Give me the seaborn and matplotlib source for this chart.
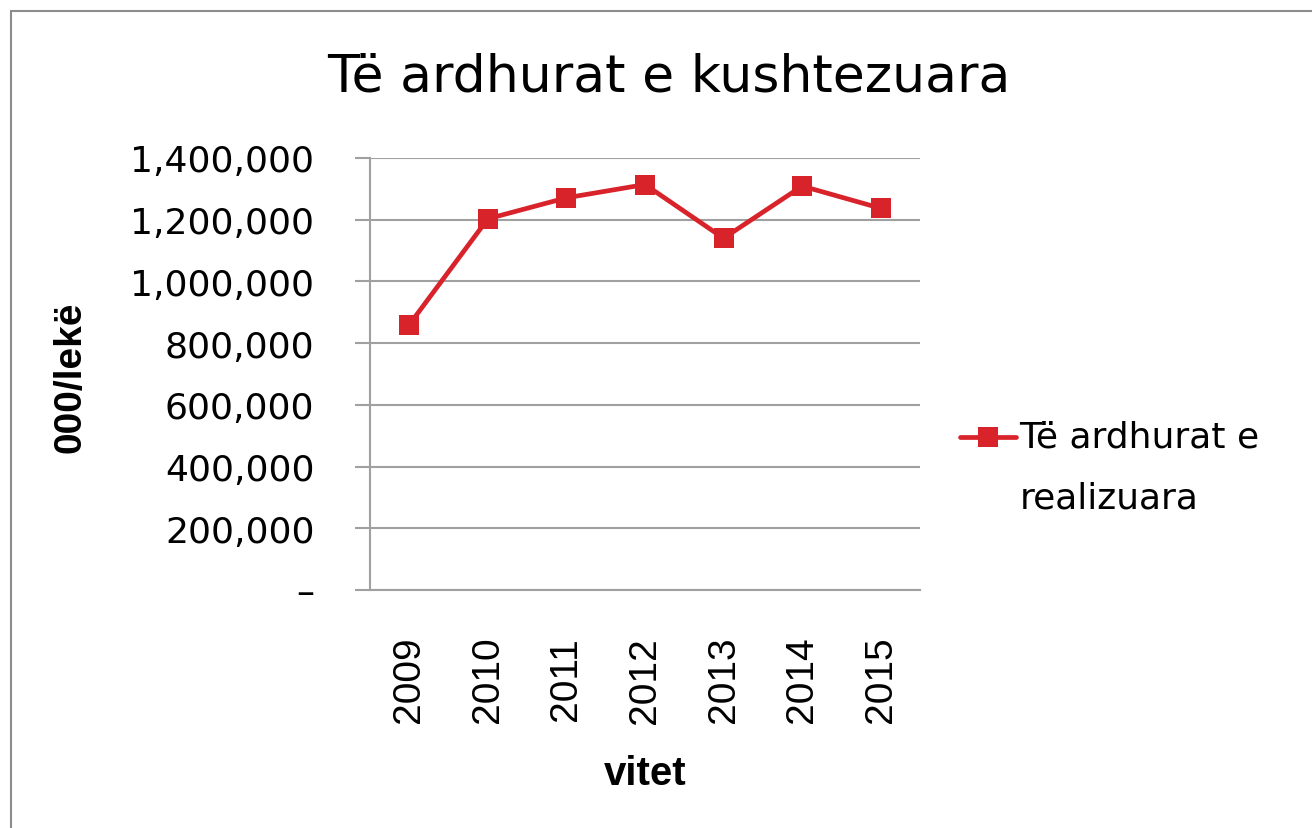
import matplotlib
matplotlib.use("Agg")
import matplotlib.pyplot as plt
import matplotlib.patches as mpatches
from matplotlib.legend_handler import HandlerLine2D
import seaborn as sns
import pandas as pd

# data
years = ["2009", "2010", "2011", "2012", "2013", "2014", "2015"]
revenue = [860000, 1203000, 1271000, 1314000, 1140000, 1309000, 1237000]
y_ticks = [0, 200000, 400000, 600000, 800000, 1000000, 1200000, 1400000]
y_tick_labels = ["–", "200,000", "400,000", "600,000", "800,000",
                 "1,000,000", "1,200,000", "1,400,000"]
series_label = "Të ardhurat e\nrealizuara"

df = pd.DataFrame({"vitet": years, "vlera": revenue})

sns.set_style("white")
plt.rcParams["font.family"] = ["DejaVu Sans"]
plt.rcParams["text.color"] = "black"
plt.rcParams["axes.labelcolor"] = "black"

red = "#D9232B"
grid_gray = "#A0A0A0"


class FirstLineHandler(HandlerLine2D):
    """Legend handle placed next to the first line of a two-line label."""

    def __init__(self, shift, **kw):
        super().__init__(**kw)
        self.shift = shift

    def create_artists(self, legend, orig_handle, xdescent, ydescent,
                       width, height, fontsize, trans):
        artists = super().create_artists(legend, orig_handle, xdescent, ydescent,
                                         width, height, fontsize, trans)
        for a in artists:
            a.set_ydata([y + self.shift for y in a.get_ydata()])
        return artists


fig = plt.figure(figsize=(13.12, 8.29), dpi=100)
ax = fig.add_axes([370 / 1312, 1 - 591 / 829, 550 / 1312, 432 / 829])

sns.lineplot(data=df, x="vitet", y="vlera", color=red, linewidth=3.4,
             marker="s", markersize=14.5, markeredgewidth=0,
             label=series_label, ax=ax, sort=False)

ax.set_xlim(-0.5, 6.5)
ax.set_ylim(0, 1400000)
ax.set_yticks(y_ticks)
ax.set_yticklabels(y_tick_labels)
ax.set_axisbelow(True)
ax.yaxis.grid(True, color=grid_gray, linewidth=1.5)
ax.xaxis.grid(False)

for side in ["top", "right"]:
    ax.spines[side].set_visible(False)
for side in ["left", "bottom"]:
    ax.spines[side].set_color(grid_gray)
    ax.spines[side].set_linewidth(1.5)

ax.tick_params(axis="y", length=11, width=1.5, color=grid_gray, pad=29,
               labelsize=26, labelcolor="black", direction="out", left=True)
ax.tick_params(axis="x", length=0, pad=33, labelsize=28, labelcolor="black",
               rotation=90)
for t in ax.get_xticklabels():
    t.set_fontfamily("Liberation Sans")

ax.set_xlabel("vitet", fontsize=29, fontweight="bold", family="Liberation Sans")
ax.xaxis.set_label_coords(0.5, -0.38)
ax.set_ylabel("000/lekë", fontsize=28, fontweight="bold", family="Liberation Sans")
ax.yaxis.set_label_coords(-0.512, 0.495)

fig.text(669 / 1312, 1 - 92 / 829, "Të ardhurat e kushtezuara",
         fontsize=37.5, ha="center", va="baseline")

ax.get_legend().remove()
handles, labels = ax.get_legend_handles_labels()
leg = fig.legend(handles, labels, loc="upper left",
                 bbox_to_anchor=(960 / 1312, 1 - 421 / 829),
                 frameon=False, fontsize=26, handlelength=1.55,
                 handletextpad=0.1, borderpad=0, borderaxespad=0,
                 handler_map={handles[0]: FirstLineHandler(shift=22.7)})
leg.get_texts()[0].set_linespacing(2.0)

# outer chart border (cut off at the right and bottom edges)
fig.patches.append(mpatches.Rectangle((11 / 1312, -0.1), 1.2, 0.1 + 1 - 12 / 829,
                                      transform=fig.transFigure, fill=False,
                                      edgecolor="#8c8c8c", linewidth=1.5))

fig.savefig("out.png", dpi=100)
